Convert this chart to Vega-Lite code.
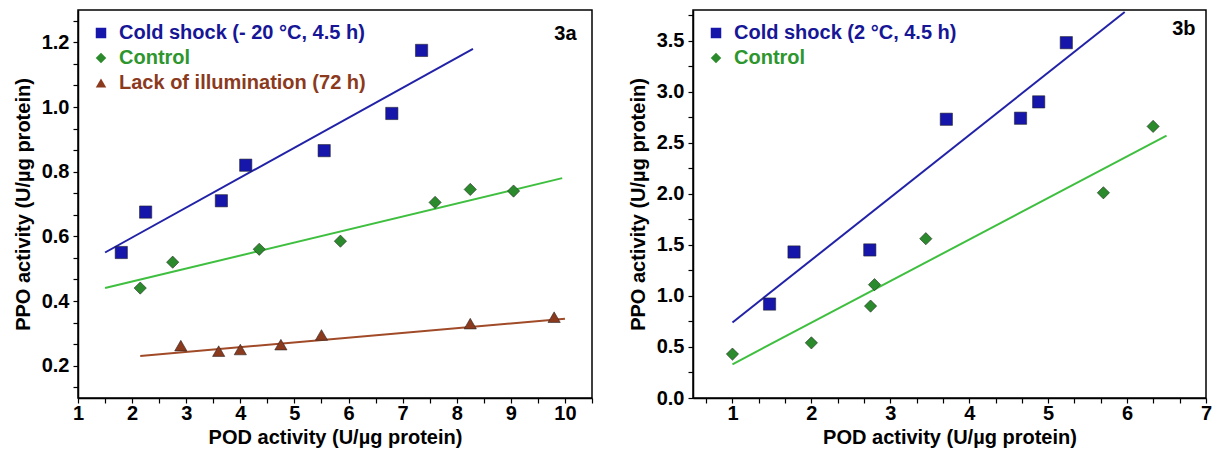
{
  "$schema": "https://vega.github.io/schema/vega-lite/v6.json",
  "background": "white",
  "padding": {"left": 12, "top": 4, "right": 0, "bottom": 0},
  "spacing": 33,
  "config": {
    "font": "Liberation Sans",
    "view": {"stroke": "#000", "strokeWidth": 1.5},
    "axis": {
      "labelFont": "Liberation Sans", "titleFont": "Liberation Sans",
      "labelFontSize": 20, "labelFontWeight": "bold", "labelColor": "#000",
      "titleFontSize": 20, "titleFontWeight": "bold", "titleColor": "#000",
      "domainColor": "#000", "domainWidth": 1.5, "tickColor": "#000", "tickSize": 5, "tickWidth": 1.2,
      "grid": false, "labelOverlap": false, "labelFlush": false
    },
    "title": {"font": "Liberation Sans", "fontSize": 20, "fontWeight": "bold", "color": "#000"}
  },
  "datasets": {
    "pts": [
      {"panel": "a", "series": "Cold shock (- 20 °C, 4.5 h)", "kind": "obs", "pod": 1.8, "ppo": 0.55},
      {"panel": "a", "series": "Cold shock (- 20 °C, 4.5 h)", "kind": "obs", "pod": 2.25, "ppo": 0.675},
      {"panel": "a", "series": "Cold shock (- 20 °C, 4.5 h)", "kind": "obs", "pod": 3.65, "ppo": 0.71},
      {"panel": "a", "series": "Cold shock (- 20 °C, 4.5 h)", "kind": "obs", "pod": 4.1, "ppo": 0.82},
      {"panel": "a", "series": "Cold shock (- 20 °C, 4.5 h)", "kind": "obs", "pod": 5.55, "ppo": 0.865},
      {"panel": "a", "series": "Cold shock (- 20 °C, 4.5 h)", "kind": "obs", "pod": 6.8, "ppo": 0.98},
      {"panel": "a", "series": "Cold shock (- 20 °C, 4.5 h)", "kind": "obs", "pod": 7.35, "ppo": 1.175},
      {"panel": "a", "series": "Control", "kind": "obs", "pod": 2.15, "ppo": 0.44},
      {"panel": "a", "series": "Control", "kind": "obs", "pod": 2.75, "ppo": 0.52},
      {"panel": "a", "series": "Control", "kind": "obs", "pod": 4.35, "ppo": 0.56},
      {"panel": "a", "series": "Control", "kind": "obs", "pod": 5.85, "ppo": 0.585},
      {"panel": "a", "series": "Control", "kind": "obs", "pod": 7.6, "ppo": 0.705},
      {"panel": "a", "series": "Control", "kind": "obs", "pod": 8.25, "ppo": 0.745},
      {"panel": "a", "series": "Control", "kind": "obs", "pod": 9.05, "ppo": 0.74},
      {"panel": "a", "series": "Lack of illumination (72 h)", "kind": "obs", "pod": 2.9, "ppo": 0.262},
      {"panel": "a", "series": "Lack of illumination (72 h)", "kind": "obs", "pod": 3.6, "ppo": 0.245},
      {"panel": "a", "series": "Lack of illumination (72 h)", "kind": "obs", "pod": 4.0, "ppo": 0.25},
      {"panel": "a", "series": "Lack of illumination (72 h)", "kind": "obs", "pod": 4.75, "ppo": 0.265},
      {"panel": "a", "series": "Lack of illumination (72 h)", "kind": "obs", "pod": 5.5, "ppo": 0.295},
      {"panel": "a", "series": "Lack of illumination (72 h)", "kind": "obs", "pod": 8.25, "ppo": 0.33},
      {"panel": "a", "series": "Lack of illumination (72 h)", "kind": "obs", "pod": 9.8, "ppo": 0.35},
      {"panel": "a", "series": "Cold shock (- 20 °C, 4.5 h)", "kind": "fit", "pod": 1.5, "ppo": 0.55},
      {"panel": "a", "series": "Cold shock (- 20 °C, 4.5 h)", "kind": "fit", "pod": 8.3, "ppo": 1.18},
      {"panel": "a", "series": "Control", "kind": "fit", "pod": 1.5, "ppo": 0.44},
      {"panel": "a", "series": "Control", "kind": "fit", "pod": 9.95, "ppo": 0.78},
      {"panel": "a", "series": "Lack of illumination (72 h)", "kind": "fit", "pod": 2.15, "ppo": 0.23},
      {"panel": "a", "series": "Lack of illumination (72 h)", "kind": "fit", "pod": 10.0, "ppo": 0.345},
      {"panel": "b", "series": "Cold shock (2 °C, 4.5 h)", "kind": "obs", "pod": 1.47, "ppo": 0.92},
      {"panel": "b", "series": "Cold shock (2 °C, 4.5 h)", "kind": "obs", "pod": 1.78, "ppo": 1.43},
      {"panel": "b", "series": "Cold shock (2 °C, 4.5 h)", "kind": "obs", "pod": 2.74, "ppo": 1.45},
      {"panel": "b", "series": "Cold shock (2 °C, 4.5 h)", "kind": "obs", "pod": 3.71, "ppo": 2.73},
      {"panel": "b", "series": "Cold shock (2 °C, 4.5 h)", "kind": "obs", "pod": 4.65, "ppo": 2.74},
      {"panel": "b", "series": "Cold shock (2 °C, 4.5 h)", "kind": "obs", "pod": 4.88, "ppo": 2.9},
      {"panel": "b", "series": "Cold shock (2 °C, 4.5 h)", "kind": "obs", "pod": 5.23, "ppo": 3.48},
      {"panel": "b", "series": "Control", "kind": "obs", "pod": 1.0, "ppo": 0.43},
      {"panel": "b", "series": "Control", "kind": "obs", "pod": 2.0, "ppo": 0.54},
      {"panel": "b", "series": "Control", "kind": "obs", "pod": 2.75, "ppo": 0.9},
      {"panel": "b", "series": "Control", "kind": "obs", "pod": 2.8, "ppo": 1.11},
      {"panel": "b", "series": "Control", "kind": "obs", "pod": 3.45, "ppo": 1.56},
      {"panel": "b", "series": "Control", "kind": "obs", "pod": 5.7, "ppo": 2.01},
      {"panel": "b", "series": "Control", "kind": "obs", "pod": 6.33, "ppo": 2.66},
      {"panel": "b", "series": "Cold shock (2 °C, 4.5 h)", "kind": "fit", "pod": 1.0, "ppo": 0.74},
      {"panel": "b", "series": "Cold shock (2 °C, 4.5 h)", "kind": "fit", "pod": 5.97, "ppo": 3.78},
      {"panel": "b", "series": "Control", "kind": "fit", "pod": 1.0, "ppo": 0.33},
      {"panel": "b", "series": "Control", "kind": "fit", "pod": 6.5, "ppo": 2.57}
    ]
  },
  "resolve": {
    "scale": {"x": "independent", "y": "independent", "fill": "independent", "shape": "independent"}
  },
  "hconcat": [
    {
      "width": 514, "height": 388,
      "title": {"text": "3a", "anchor": "end", "dy": 38, "dx": -16},
      "data": {"name": "pts"},
      "transform": [{"filter": "datum.panel == 'a'"}],
      "encoding": {
        "x": {"field": "pod", "type": "quantitative", "title": "POD activity (U/µg protein)",
          "scale": {"domain": [1, 10.5], "nice": false, "zero": false},
          "axis": {"values": [1, 1.5, 2, 2.5, 3, 3.5, 4, 4.5, 5, 5.5, 6, 6.5, 7, 7.5, 8, 8.5, 9, 9.5, 10, 10.5],
            "labelExpr": "datum.value % 1 == 0 && datum.value <= 10 ? format(datum.value, 'd') : ''", "titlePadding": 4, "labelPadding": 0}},
        "y": {"field": "ppo", "type": "quantitative", "title": "PPO activity (U/µg protein)",
          "scale": {"domain": [0.1, 1.3], "nice": false, "zero": false},
          "axis": {"values": [0.1333, 0.2, 0.2667, 0.3333, 0.4, 0.4667, 0.5333, 0.6, 0.6667, 0.7333, 0.8, 0.8667, 0.9333, 1.0, 1.0667, 1.1333, 1.2, 1.2667],
            "labelExpr": "abs(datum.value * 5 - round(datum.value * 5)) < 0.001 ? format(datum.value, '.1f') : ''", "titlePadding": 8, "labelPadding": 4}}
      },
      "layer": [
        {
          "transform": [{"filter": "datum.kind == 'fit' && indexof(datum.series, 'Cold') == 0"}],
          "mark": {"type": "line", "strokeWidth": 2, "color": "#2222a8"},
          "encoding": {}
        },
        {
          "transform": [{"filter": "datum.kind == 'fit' && datum.series == 'Control'"}],
          "mark": {"type": "line", "strokeWidth": 2, "color": "#3fbf3f"},
          "encoding": {}
        },
        {
          "transform": [{"filter": "datum.kind == 'fit' && indexof(datum.series, 'Lack') == 0"}],
          "mark": {"type": "line", "strokeWidth": 2, "color": "#a04a28"},
          "encoding": {}
        },
        {
          "transform": [{"filter": "datum.kind == 'obs'"}],
          "mark": {"type": "point", "filled": true, "size": 150, "opacity": 1, "stroke": "#222", "strokeWidth": 0.8, "strokeOpacity": 0.7},
          "encoding": {
            "fill": {"field": "series", "type": "nominal",
              "scale": {"domain": ["Cold shock (- 20 °C, 4.5 h)", "Control", "Lack of illumination (72 h)"], "range": ["#1616aa", "#2b8a2b", "#8b3a1e"]},
              "legend": {"title": null, "orient": "top-left", "offset": 13, "padding": 0, "rowPadding": 5,
                "symbolSize": 110, "symbolStrokeWidth": 0, "labelOffset": 8, "labelLimit": 400,
                "labelFont": "Liberation Sans", "labelFontSize": 20, "labelFontWeight": "bold",
                "labelColor": {"expr": "datum.value == 'Control' ? '#2e962e' : (indexof(datum.value, 'Lack') == 0 ? '#8b3a1e' : '#161696')"}}},
            "shape": {"field": "series", "type": "nominal",
              "scale": {"domain": ["Cold shock (- 20 °C, 4.5 h)", "Control", "Lack of illumination (72 h)"], "range": ["square", "diamond", "triangle-up"]},
              "legend": {"title": null}}
          }
        }
      ]
    },
    {
      "width": 513, "height": 388,
      "title": {"text": "3b", "anchor": "end", "dy": 38, "dx": -16},
      "data": {"name": "pts"},
      "transform": [{"filter": "datum.panel == 'b'"}],
      "encoding": {
        "x": {"field": "pod", "type": "quantitative", "title": "POD activity (U/µg protein)",
          "scale": {"domain": [0.5, 7], "nice": false, "zero": false},
          "axis": {"values": [0.6667, 1, 1.3333, 1.6667, 2, 2.3333, 2.6667, 3, 3.3333, 3.6667, 4, 4.3333, 4.6667, 5, 5.3333, 5.6667, 6, 6.3333, 6.6667, 7],
            "labelExpr": "abs(datum.value - round(datum.value)) < 0.001 ? format(datum.value, 'd') : ''", "titlePadding": 4, "labelPadding": 0}},
        "y": {"field": "ppo", "type": "quantitative", "title": "PPO activity (U/µg protein)",
          "scale": {"domain": [0, 3.8], "nice": false, "zero": false},
          "axis": {"values": [0, 0.25, 0.5, 0.75, 1, 1.25, 1.5, 1.75, 2, 2.25, 2.5, 2.75, 3, 3.25, 3.5, 3.75],
            "labelExpr": "abs(datum.value * 2 - round(datum.value * 2)) < 0.001 ? format(datum.value, '.1f') : ''", "titlePadding": 8, "labelPadding": 4}}
      },
      "layer": [
        {
          "transform": [{"filter": "datum.kind == 'fit' && indexof(datum.series, 'Cold') == 0"}],
          "mark": {"type": "line", "strokeWidth": 2, "color": "#2222a8"},
          "encoding": {}
        },
        {
          "transform": [{"filter": "datum.kind == 'fit' && datum.series == 'Control'"}],
          "mark": {"type": "line", "strokeWidth": 2, "color": "#3fbf3f"},
          "encoding": {}
        },
        {
          "transform": [{"filter": "datum.kind == 'obs'"}],
          "mark": {"type": "point", "filled": true, "size": 150, "opacity": 1, "stroke": "#222", "strokeWidth": 0.8, "strokeOpacity": 0.7},
          "encoding": {
            "fill": {"field": "series", "type": "nominal",
              "scale": {"domain": ["Cold shock (2 °C, 4.5 h)", "Control"], "range": ["#1616aa", "#2b8a2b"]},
              "legend": {"title": null, "orient": "top-left", "offset": 13, "padding": 0, "rowPadding": 5,
                "symbolSize": 110, "symbolStrokeWidth": 0, "labelOffset": 8, "labelLimit": 400,
                "labelFont": "Liberation Sans", "labelFontSize": 20, "labelFontWeight": "bold",
                "labelColor": {"expr": "datum.value == 'Control' ? '#2e962e' : '#161696'"}}},
            "shape": {"field": "series", "type": "nominal",
              "scale": {"domain": ["Cold shock (2 °C, 4.5 h)", "Control"], "range": ["square", "diamond"]},
              "legend": {"title": null}}
          }
        }
      ]
    }
  ]
}
